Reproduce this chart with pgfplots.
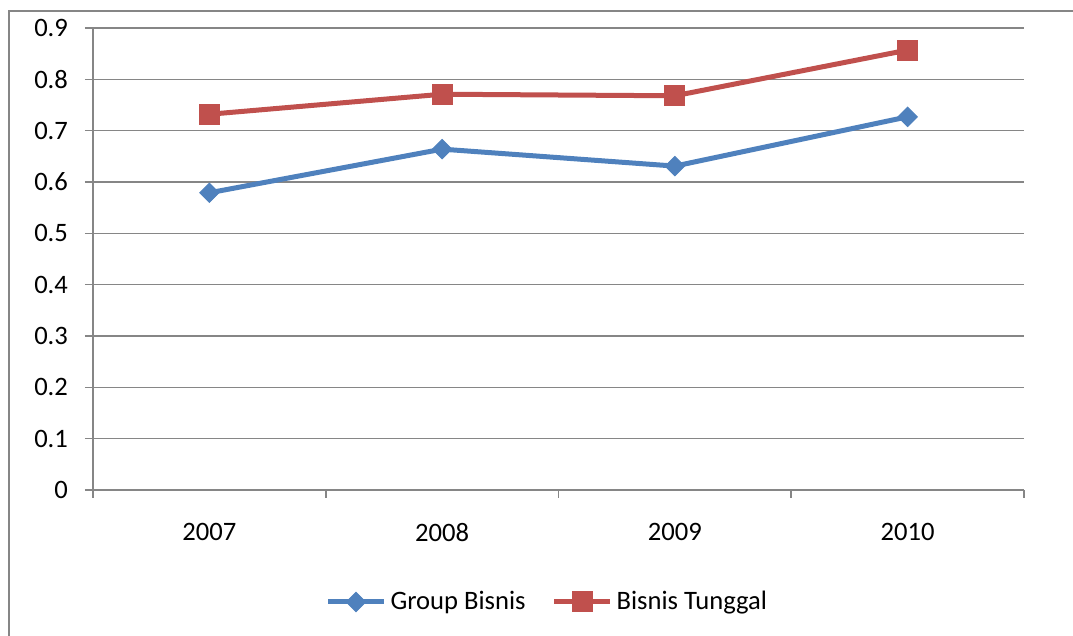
\documentclass[border=0pt]{standalone}
\usepackage{fontspec}
\setmainfont{Carlito}
\usepackage{pgfplots}
\pgfplotsset{compat=1.18}
\definecolor{gb}{RGB}{79,129,189}
\definecolor{bt}{RGB}{192,80,77}
\definecolor{gr}{RGB}{134,134,134}
\begin{document}
\fontsize{13pt}{15pt}\selectfont
\begin{tikzpicture}
\useasboundingbox (0,0) rectangle (536.5pt,318pt);
\clip (0,0) rectangle (536.5pt,318pt);
\draw[gr, line width=1.2pt] (4.5pt,-20pt) -- (4.5pt,312.5pt) -- (560pt,312.5pt);
\begin{axis}[
  at={(46.5pt,73pt)}, anchor=south west,
  width=465.5pt, height=231pt, scale only axis,
  xmin=0.5, xmax=4.5, ymin=0, ymax=0.9,
  axis x line=bottom, axis y line=left,
  axis line style={gr, line width=0.75pt, -},
  xtick={1,2,3,4}, xticklabels={2007,2008,2009,2010},
  major x tick style={draw=none},
  minor xtick={0.5,1.5,2.5,3.5,4.5},
  ytick={0,0.1,0.2,0.3,0.4,0.5,0.6,0.7,0.8,0.9},
  ymajorgrids, grid style={gr, line width=0.75pt},
  tick style={gr, line width=0.75pt},
  tick align=outside, major tick length=4pt, minor tick length=4pt,
  /pgf/number format/assume math mode=true,
  yticklabel style={/pgf/number format/fixed, /pgf/number format/precision=1, xshift=-4pt},
  xticklabel style={yshift=-8pt},
  tick label style={font=\fontsize{13.3pt}{15pt}\selectfont, text=black},
  legend style={at={(0.489,-0.2424)}, anchor=center, draw=none, fill=none,
    legend columns=2, font=\fontsize{13.3pt}{15pt}\selectfont,
    /tikz/every even column/.append style={column sep=11pt}},
  legend image code/.code={\draw[mark repeat=2,mark phase=2] plot coordinates {(0pt,0pt) (14pt,0pt) (28pt,0pt)};},
  clip=false,
]
\addplot[gb, line width=2.5pt, mark=square*, mark size=3.4pt, mark options={rotate=45, solid, fill=gb, draw=gb, line width=0.5pt}]
  coordinates {(1,0.579) (2,0.664) (3,0.631) (4,0.727)};
\addlegendentry{Group Bisnis}
\addplot[bt, line width=2.5pt, mark=square*, mark size=5pt, mark options={solid, fill=bt, draw=bt, line width=0.5pt}]
  coordinates {(1,0.732) (2,0.771) (3,0.768) (4,0.857)};
\addlegendentry{Bisnis Tunggal}
\end{axis}
\end{tikzpicture}
\end{document}
